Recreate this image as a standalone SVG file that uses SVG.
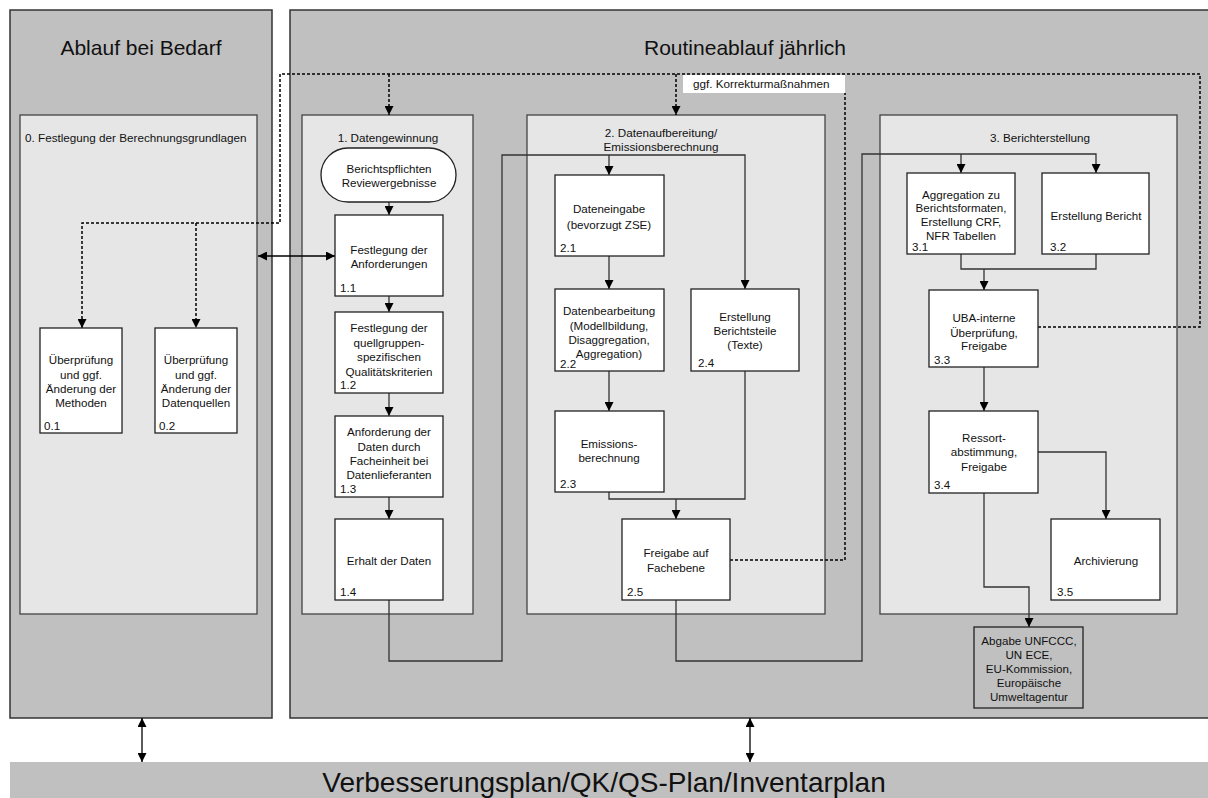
<svg xmlns="http://www.w3.org/2000/svg" width="1208" height="798" viewBox="0 0 1208 798">
<defs>
<marker id="ah" viewBox="0 0 10 10" refX="10" refY="5" markerWidth="9" markerHeight="9" markerUnits="userSpaceOnUse" orient="auto-start-reverse">
<path d="M0,0 L10,5 L0,10 z" fill="#000"/>
</marker>
<style>
.outer{fill:#c0c0c0;stroke:#333;stroke-width:1.5}
.inner{fill:#e6e6e6;stroke:#444;stroke-width:1.3}
.box{fill:#fff;stroke:#222;stroke-width:1.3}
.abg{fill:#c0c0c0;stroke:#222;stroke-width:1.3}
text{font-family:"Liberation Sans",Arial,sans-serif;fill:#111}
.t{font-size:11.6px;text-anchor:middle}
.n{font-size:11.6px}
.lab{font-size:11.7px}
.labc{font-size:11.7px;text-anchor:middle}
.title{font-size:21px;text-anchor:middle}
.bar{font-size:28px;text-anchor:middle}
.c{fill:none;stroke:#333;stroke-width:1.3}
.ca{fill:none;stroke:#333;stroke-width:1.3;marker-end:url(#ah)}
.cd{fill:none;stroke:#000;stroke-width:1.5;stroke-dasharray:3,2}
.cda{fill:none;stroke:#000;stroke-width:1.5;stroke-dasharray:3,2;marker-end:url(#ah)}
.cb{fill:none;stroke:#000;stroke-width:1.3;marker-start:url(#ah);marker-end:url(#ah)}
</style>
</defs>
<rect width="1208" height="798" fill="#fff"/>

<g id="panel-bedarf">
<rect class="outer" x="10" y="10" width="262" height="708"/>
<text class="title" x="141" y="55">Ablauf bei Bedarf</text>
</g>
<g id="panel-routine">
<rect class="outer" x="290" y="10" width="925" height="708"/>
<text class="title" x="745" y="55">Routineablauf jährlich</text>
</g>
<g id="bar-plan">
<rect x="10" y="762" width="1200" height="40" fill="#c0c0c0"/>
<text class="bar" x="604" y="792">Verbesserungsplan/QK/QS-Plan/Inventarplan</text>
</g>

<g id="group0">
<rect class="inner" x="20" y="115" width="237" height="499"/>
<text class="lab" x="25" y="142">0. Festlegung der Berechnungsgrundlagen</text>
</g>
<g id="group1">
<rect class="inner" x="302" y="115" width="171" height="499"/>
<text class="labc" x="388" y="142">1. Datengewinnung</text>
</g>
<g id="group2">
<rect class="inner" x="527" y="115" width="298" height="499"/>
<text class="labc" x="661" y="137">2. Datenaufbereitung/</text>
<text class="labc" x="661" y="151">Emissionsberechnung</text>
</g>
<g id="group3">
<rect class="inner" x="880" y="115" width="297" height="499"/>
<text class="labc" x="1040" y="142">3. Berichterstellung</text>
</g>

<g id="connectors">
<path class="cda" d="M1038,327 H1200 V74 H280 V223 H82 V328"/>
<path class="cda" d="M196,223 V328"/>
<path class="cda" d="M389,74 V115"/>
<path class="cda" d="M676,74 V115"/>
<path class="cd" d="M730,560 H845 V93"/>
<path class="cb" d="M258,256 H335"/>
<path class="cb" d="M142,718 V762"/>
<path class="cb" d="M750,718 V762"/>
<path class="ca" d="M389,202 V215"/>
<path class="ca" d="M389,296 V312"/>
<path class="ca" d="M389,393 V416"/>
<path class="ca" d="M389,497 V519"/>
<path class="ca" d="M389,600 V661 H502 V155 H745 V289"/>
<path class="ca" d="M609,155 V175"/>
<path class="ca" d="M609,256 V289"/>
<path class="ca" d="M609,371 V411"/>
<path class="c" d="M609,492 V499 H745 V371"/>
<path class="ca" d="M676,499 V519"/>
<path class="ca" d="M676,600 V661 H862 V154 H1096 V173"/>
<path class="ca" d="M961,154 V173"/>
<path class="c" d="M961,254 V269 H1096 V254"/>
<path class="ca" d="M984,269 V290"/>
<path class="ca" d="M984,367 V411"/>
<path class="ca" d="M1038,452 H1106 V519"/>
<path class="ca" d="M984,493 V587 H1029 V627"/>
</g>

<g id="label-korrektur">
<rect x="683" y="75" width="162" height="18" fill="#fff"/>
<text class="lab" x="693" y="88">ggf. Korrekturmaßnahmen</text>
</g>

<g id="n01">
<rect class="box" x="40" y="328" width="82" height="105"/>
<text class="t" x="81" y="364">Überprüfung</text>
<text class="t" x="81" y="379">und ggf.</text>
<text class="t" x="81" y="393">Änderung der</text>
<text class="t" x="81" y="407">Methoden</text>
<text class="n" x="44" y="430">0.1</text>
</g>
<g id="n02">
<rect class="box" x="155" y="328" width="82" height="105"/>
<text class="t" x="196" y="364">Überprüfung</text>
<text class="t" x="196" y="379">und ggf.</text>
<text class="t" x="196" y="393">Änderung der</text>
<text class="t" x="196" y="407">Datenquellen</text>
<text class="n" x="159" y="430">0.2</text>
</g>

<g id="n10">
<rect class="box" x="321" y="148" width="135" height="54" rx="27" ry="27"/>
<text class="t" x="389" y="173">Berichtspflichten</text>
<text class="t" x="389" y="187">Reviewergebnisse</text>
</g>
<g id="n11">
<rect class="box" x="335" y="215" width="108" height="81"/>
<text class="t" x="389" y="254">Festlegung der</text>
<text class="t" x="389" y="268">Anforderungen</text>
<text class="n" x="340" y="292">1.1</text>
</g>
<g id="n12">
<rect class="box" x="335" y="312" width="108" height="81"/>
<text class="t" x="389" y="332">Festlegung der</text>
<text class="t" x="389" y="347">quellgruppen-</text>
<text class="t" x="389" y="361">spezifischen</text>
<text class="t" x="389" y="376">Qualitätskriterien</text>
<text class="n" x="340" y="389">1.2</text>
</g>
<g id="n13">
<rect class="box" x="335" y="416" width="108" height="81"/>
<text class="t" x="389" y="436">Anforderung der</text>
<text class="t" x="389" y="451">Daten durch</text>
<text class="t" x="389" y="465">Facheinheit bei</text>
<text class="t" x="389" y="479">Datenlieferanten</text>
<text class="n" x="340" y="493">1.3</text>
</g>
<g id="n14">
<rect class="box" x="335" y="519" width="108" height="81"/>
<text class="t" x="389" y="565">Erhalt der Daten</text>
<text class="n" x="340" y="596">1.4</text>
</g>

<g id="n21">
<rect class="box" x="555" y="175" width="109" height="81"/>
<text class="t" x="609" y="213">Dateneingabe</text>
<text class="t" x="609" y="229">(bevorzugt ZSE)</text>
<text class="n" x="560" y="252">2.1</text>
</g>
<g id="n22">
<rect class="box" x="555" y="289" width="109" height="82"/>
<text class="t" x="609" y="315">Datenbearbeitung</text>
<text class="t" x="609" y="330">(Modellbildung,</text>
<text class="t" x="609" y="344">Disaggregation,</text>
<text class="t" x="609" y="358">Aggregation)</text>
<text class="n" x="560" y="368">2.2</text>
</g>
<g id="n24">
<rect class="box" x="691" y="289" width="108" height="82"/>
<text class="t" x="745" y="321">Erstellung</text>
<text class="t" x="745" y="335">Berichtsteile</text>
<text class="t" x="745" y="349">(Texte)</text>
<text class="n" x="698" y="367">2.4</text>
</g>
<g id="n23">
<rect class="box" x="555" y="411" width="109" height="81"/>
<text class="t" x="609" y="448">Emissions-</text>
<text class="t" x="609" y="462">berechnung</text>
<text class="n" x="560" y="488">2.3</text>
</g>
<g id="n25">
<rect class="box" x="622" y="519" width="108" height="81"/>
<text class="t" x="676" y="557">Freigabe auf</text>
<text class="t" x="676" y="572">Fachebene</text>
<text class="n" x="627" y="596">2.5</text>
</g>

<g id="n31">
<rect class="box" x="907" y="173" width="108" height="81"/>
<text class="t" x="961" y="199">Aggregation zu</text>
<text class="t" x="961" y="212">Berichtsformaten,</text>
<text class="t" x="961" y="226">Erstellung CRF,</text>
<text class="t" x="961" y="240">NFR Tabellen</text>
<text class="n" x="912" y="251">3.1</text>
</g>
<g id="n32">
<rect class="box" x="1042" y="173" width="107" height="81"/>
<text class="t" x="1096" y="220">Erstellung Bericht</text>
<text class="n" x="1050" y="251">3.2</text>
</g>
<g id="n33">
<rect class="box" x="929" y="290" width="109" height="77"/>
<text class="t" x="984" y="322">UBA-interne</text>
<text class="t" x="984" y="337">Überprüfung,</text>
<text class="t" x="984" y="350">Freigabe</text>
<text class="n" x="934" y="364">3.3</text>
</g>
<g id="n34">
<rect class="box" x="929" y="411" width="109" height="82"/>
<text class="t" x="984" y="442">Ressort-</text>
<text class="t" x="984" y="456">abstimmung,</text>
<text class="t" x="984" y="471">Freigabe</text>
<text class="n" x="934" y="489">3.4</text>
</g>
<g id="n35">
<rect class="box" x="1051" y="519" width="109" height="81"/>
<text class="t" x="1106" y="565">Archivierung</text>
<text class="n" x="1057" y="596">3.5</text>
</g>
<g id="n-abgabe">
<rect class="abg" x="974" y="627" width="109" height="81"/>
<text class="t" x="1029" y="645">Abgabe UNFCCC,</text>
<text class="t" x="1029" y="659">UN ECE,</text>
<text class="t" x="1029" y="673">EU-Kommission,</text>
<text class="t" x="1029" y="687">Europäische</text>
<text class="t" x="1029" y="701">Umweltagentur</text>
</g>
</svg>
